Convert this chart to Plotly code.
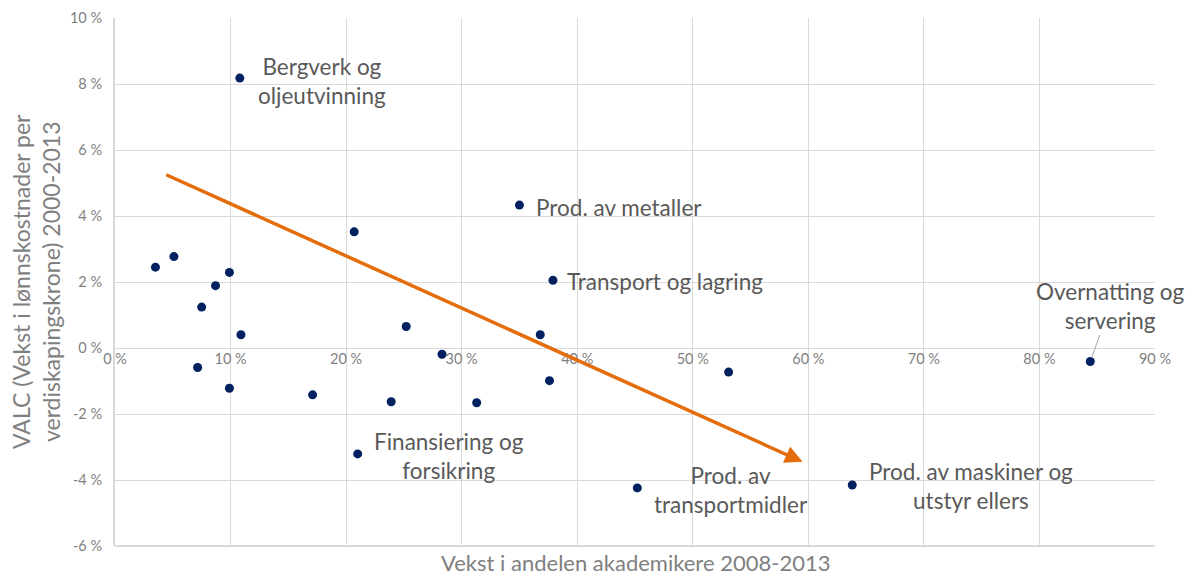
import plotly.graph_objects as go

# Vekst i andelen akademikere 2008-2013 (%) og VALC 2000-2013 (%)
vekst_akademikere = [10.8, 35.0, 20.7, 37.9, 3.5, 5.1, 9.9, 8.7, 7.5, 10.9, 7.15, 9.9,
                     17.1, 23.9, 25.2, 28.3, 31.3, 36.8, 37.6, 53.1, 21.0, 45.2, 63.8, 84.4]
valc = [8.18, 4.33, 3.52, 2.05, 2.45, 2.77, 2.29, 1.89, 1.24, 0.40, -0.59, -1.22,
        -1.42, -1.63, 0.65, -0.19, -1.66, 0.40, -0.99, -0.73, -3.21, -4.24, -4.15, -0.41]
navn = ["Bergverk og<br>oljeutvinning", "Prod. av metaller", "", "Transport og lagring",
        "", "", "", "", "", "", "", "", "", "", "", "", "", "", "", "",
        "Finansiering og<br>forsikring", "Prod. av<br>transportmidler",
        "Prod. av maskiner og<br>utstyr ellers", "Overnatting og<br>servering"]

# trendpil
pil_x = [4.3, 59.5]
pil_y = [5.27, -3.45]

x_ticks = [0, 10, 20, 30, 40, 50, 60, 70, 80, 90]
y_ticks = [-6, -4, -2, 0, 2, 4, 6, 8, 10]

FONT = "Lato, 'Open Sans', sans-serif"
GRID = "#d9d9d9"
LABEL_GREY = "#595959"
TICK_GREY = "#7f7f7f"
ORANGE = "#e46c0a"

# label offsets in px: (xanchor, xshift, yshift)
label_pos = {
    "Bergverk og<br>oljeutvinning": ("center", 82, -3),
    "Prod. av metaller": ("left", 15, -2),
    "Transport og lagring": ("left", 12, -1),
    "Finansiering og<br>forsikring": ("center", 91, -2),
    "Prod. av<br>transportmidler": ("center", 94, -2),
    "Prod. av maskiner og<br>utstyr ellers": ("center", 119, -1),
}

fig = go.Figure()

fig.add_trace(go.Scatter(
    x=vekst_akademikere, y=valc, mode="markers",
    marker=dict(color="#002060", size=9),
    hoverinfo="skip", showlegend=False,
))

fig.add_annotation(
    x=pil_x[1], y=pil_y[1], ax=pil_x[0], ay=pil_y[0],
    xref="x", yref="y", axref="x", ayref="y",
    showarrow=True, arrowhead=2, arrowsize=1.0, arrowwidth=3.5,
    arrowcolor=ORANGE, text="",
)

for xv, yv, lab in zip(vekst_akademikere, valc, navn):
    if not lab:
        continue
    if lab in label_pos:
        anchor, dx, dy = label_pos[lab]
        fig.add_annotation(
            x=xv, y=yv, text=lab, showarrow=False,
            xanchor=anchor, yanchor="middle", xshift=dx, yshift=dy,
            font=dict(family=FONT, size=22.5, color=LABEL_GREY),
        )
    else:
        fig.add_annotation(
            x=xv, y=yv, text=lab, showarrow=True,
            ax=20, ay=-56, arrowhead=0, arrowwidth=1, arrowcolor="#a6a6a6",
            standoff=4,
            font=dict(family=FONT, size=22.5, color=LABEL_GREY),
        )

# page body has an 8px margin, so the figure is sized/offset to compensate
fig.update_layout(
    width=1187, height=570,
    margin=dict(l=107, r=40, t=10, b=32),
    plot_bgcolor="white", paper_bgcolor="white",
    font=dict(family=FONT, color=TICK_GREY),
    xaxis=dict(
        range=[0, 90], tickvals=x_ticks, ticktext=[f"{v} %" for v in x_ticks],
        showgrid=True, gridcolor=GRID, gridwidth=1.3, zeroline=False,
        showline=False, anchor="free", position=0.375, automargin=False,
        tickfont=dict(size=14.5, color=TICK_GREY), ticks="",
    ),
    yaxis=dict(
        range=[-6, 10], tickvals=y_ticks, ticktext=[f"{v} %" for v in y_ticks],
        showgrid=True, gridcolor=GRID, gridwidth=1.3, zeroline=False,
        showline=True, linecolor=GRID, linewidth=2, ticks="", automargin=False,
        tickfont=dict(size=14.5, color=TICK_GREY), ticklabelstandoff=8,
    ),
    shapes=[dict(type="line", xref="paper", yref="paper", x0=0, x1=1, y0=0, y1=0,
                 line=dict(color=GRID, width=2))],
)

fig.add_annotation(
    text="Vekst i andelen akademikere 2008-2013", xref="paper", yref="paper",
    x=0.5, y=0, yanchor="top", yshift=-2, borderpad=0, showarrow=False,
    font=dict(family=FONT, size=22, color=TICK_GREY),
)
fig.add_annotation(
    text="VALC (Vekst i lønnskostnader per<br>verdiskapingskrone) 2000-2013",
    xref="paper", yref="paper", x=0, y=0.5, xanchor="center", xshift=-79,
    textangle=-90, showarrow=False,
    font=dict(family=FONT, size=23, color=TICK_GREY),
)

fig.write_html("out.html")
